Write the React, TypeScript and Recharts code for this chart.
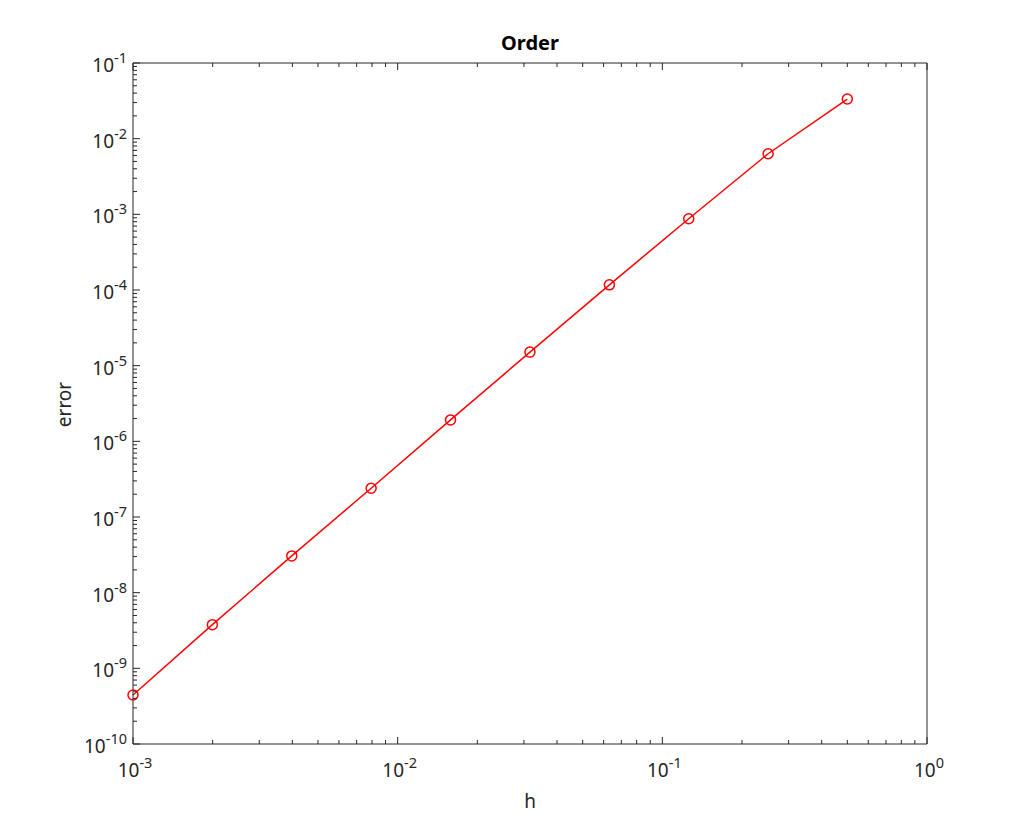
import React from 'react';
import { LineChart, Line, XAxis, YAxis } from 'recharts';

const hValues = [0.001, 0.001995, 0.00398, 0.00794, 0.01584, 0.03161, 0.0631, 0.1258, 0.251, 0.5];
const errValues = [4.44e-10, 3.78e-9, 3.06e-8, 2.4e-7, 1.92e-6, 1.51e-5, 1.17e-4, 8.73e-4, 6.32e-3, 3.34e-2];

const xMajorExps = [-3, -2, -1, 0];
const yMajorExps = [-10, -9, -8, -7, -6, -5, -4, -3, -2, -1];
const minorMultipliers = [2, 3, 4, 5, 6, 7, 8, 9];

const buildTicks = (exps: number[]) => {
  const out: number[] = [];
  exps.forEach((e, i) => {
    out.push(Math.pow(10, e));
    if (i < exps.length - 1) minorMultipliers.forEach((m) => out.push(m * Math.pow(10, e)));
  });
  return out;
};

const xTicks = buildTicks(xMajorExps);
const yTicks = buildTicks(yMajorExps);

const data = hValues.map((h, i) => ({ h, err: errValues[i] }));

const AX = '#262626';
const FONT = '"Noto Sans", sans-serif';

const isMajor = (v: number) => {
  const l = Math.log10(v);
  return Math.abs(l - Math.round(l)) < 1e-6;
};

const XTickBottom = (props: any) => {
  const { x, y, payload } = props;
  const v = payload.value;
  const major = isMajor(v);
  return (
    <g>
      <line x1={x} x2={x} y1={y} y2={y - (major ? 7 : 4)} stroke={AX} strokeWidth={1} />
      {major && (
        <text x={x + 2} y={y + 33} textAnchor="middle" fontFamily={FONT} fontSize={19} fill={AX}>
          10<tspan dy={-9} fontSize={14.5}>{Math.round(Math.log10(v))}</tspan>
        </text>
      )}
    </g>
  );
};

const XTickTop = (props: any) => {
  const { x, y, payload } = props;
  const major = isMajor(payload.value);
  return <line x1={x} x2={x} y1={y} y2={y + (major ? 7 : 4)} stroke={AX} strokeWidth={1} />;
};

const YTickLeft = (props: any) => {
  const { x, y, payload } = props;
  const v = payload.value;
  const major = isMajor(v);
  return (
    <g>
      <line x1={x} x2={x + (major ? 7 : 4)} y1={y} y2={y} stroke={AX} strokeWidth={1} />
      {major && (
        <text x={x - 6} y={y + 9} textAnchor="end" fontFamily={FONT} fontSize={19} fill={AX}>
          10<tspan dy={-9} fontSize={14.5}>{Math.round(Math.log10(v))}</tspan>
        </text>
      )}
    </g>
  );
};

const YTickRight = (props: any) => {
  const { x, y, payload } = props;
  const major = isMajor(payload.value);
  return <line x1={x} x2={x - (major ? 7 : 4)} y1={y} y2={y} stroke={AX} strokeWidth={1} />;
};

export default function App() {
  return (
    <div style={{ position: 'absolute', left: 0, top: 0, background: '#fff' }}>
      <LineChart width={1024} height={837} data={data} margin={{ top: 62, right: 96, bottom: 92, left: 132 }}>
        <XAxis
          dataKey="h"
          type="number"
          scale="log"
          domain={[0.001, 1]}
          ticks={xTicks}
          interval={0}
          height={1}
          tickSize={0}
          tickMargin={0}
          tickLine={false}
          axisLine={{ stroke: AX }}
          tick={<XTickBottom />}
          label={{
            content: (p: any) => {
              const vb = p.viewBox;
              return (
                <text x={vb.x + vb.width / 2} y={vb.y + 64} textAnchor="middle" fontFamily={FONT} fontSize={19} fill={AX}>
                  h
                </text>
              );
            },
          }}
        />
        <XAxis
          xAxisId="top"
          orientation="top"
          dataKey="h"
          type="number"
          scale="log"
          domain={[0.001, 1]}
          ticks={xTicks}
          interval={0}
          height={1}
          tickSize={0}
          tickMargin={0}
          tickLine={false}
          axisLine={{ stroke: AX }}
          tick={<XTickTop />}
          label={{
            content: (p: any) => {
              const vb = p.viewBox;
              return (
                <text x={vb.x + vb.width / 2} y={vb.y + vb.height - 13} textAnchor="middle" fontFamily={FONT} fontSize={20} fontWeight="bold" fill="#000">
                  Order
                </text>
              );
            },
          }}
        />
        <YAxis
          type="number"
          scale="log"
          domain={[1e-10, 1e-1]}
          ticks={yTicks}
          interval={0}
          width={1}
          tickSize={0}
          tickMargin={0}
          tickLine={false}
          axisLine={{ stroke: AX }}
          tick={<YTickLeft />}
          label={{
            content: (p: any) => {
              const vb = p.viewBox;
              const cx = 71;
              const cy = vb.y + vb.height / 2 + 1;
              return (
                <text x={cx} y={cy} textAnchor="middle" transform={`rotate(-90, ${cx}, ${cy})`} fontFamily={FONT} fontSize={19} fill={AX}>
                  error
                </text>
              );
            },
          }}
        />
        <YAxis
          yAxisId="right"
          orientation="right"
          type="number"
          scale="log"
          domain={[1e-10, 1e-1]}
          ticks={yTicks}
          interval={0}
          width={1}
          tickSize={0}
          tickMargin={0}
          tickLine={false}
          axisLine={{ stroke: AX }}
          tick={<YTickRight />}
        />
        <Line
          type="linear"
          dataKey="err"
          stroke="#ff0000"
          strokeWidth={1.5}
          dot={{ r: 5, stroke: '#ff0000', strokeWidth: 1.5, fill: 'none' }}
          isAnimationActive={false}
        />
      </LineChart>
    </div>
  );
}
